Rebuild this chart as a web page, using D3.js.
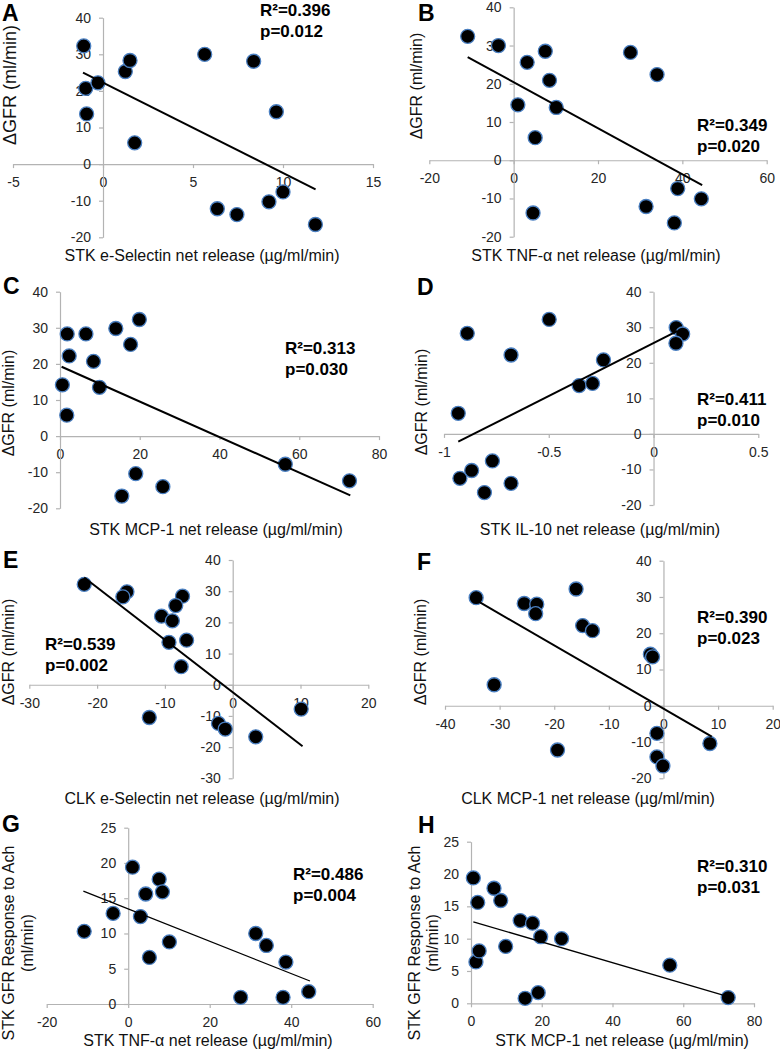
<!DOCTYPE html>
<html><head><meta charset="utf-8">
<script src="https://cdn.jsdelivr.net/npm/d3@7"></script>
<style>body{margin:0;background:#fff}svg{display:block}</style>
</head><body>
<script>
// ---- data ----
const aX = [-1.07,-0.96,-0.91,-0.28,1.24,1.5,1.76,5.65,8.37,9.63,6.35,7.44,9.22,10.0,11.8];
const aY = [32.3,20.7,13.7,22.2,25.3,28.3,5.8,30.0,28.1,14.3,-12.2,-13.8,-10.3,-7.6,-16.5];
const aTrend = [-1.11,25.0,11.81,-6.9];
const bX = [-10.9,-3.6,7.5,3.2,8.5,1.0,10.1,5.1,27.7,34.0,4.6,38.9,44.5,31.4,38.1];
const bY = [32.4,30.0,28.5,25.6,20.9,14.5,13.8,5.9,28.2,22.4,-13.8,-7.4,-10.1,-12.1,-16.4];
const bTrend = [-10.9,27.0,44.7,-6.5];
const cX = [0.6,1.7,1.8,2.3,6.5,8.4,9.9,14.0,17.7,19.9,15.5,19.0,25.8,56.5,72.6];
const cY = [14.2,5.8,28.3,22.2,28.3,20.7,13.5,29.8,25.4,32.3,-16.6,-10.4,-14.0,-7.8,-12.4];
const cTrend = [0.4,19.2,72.8,-16.4];
const dX = [-0.889,-0.498,-0.680,-0.932,-0.355,-0.291,-0.239,0.108,0.139,0.107,-0.769,-0.868,-0.924,-0.807,-0.680];
const dY = [28.3,32.2,22.2,5.8,13.6,14.2,20.8,29.9,28.1,25.5,-7.6,-10.3,-12.5,-16.5,-13.9];
const dTrend = [-0.932,-2.2,0.115,29.0];
const eX = [-21.9,-15.6,-16.2,-7.4,-8.4,-10.5,-8.9,-9.4,-6.8,-7.6,10.1,-12.3,-2.1,-1.1,3.4];
const eY = [32.2,29.8,28.2,28.4,25.4,22.0,20.5,13.6,14.3,5.8,-7.8,-10.5,-12.4,-14.2,-16.7];
const eTrend = [-21.9,34.4,10.3,-19.7];
const fX = [-34.3,-16.0,-25.5,-23.2,-23.4,-14.8,-13.0,-2.4,-2.0,-31.0,-1.2,8.5,-19.4,-1.2,-0.1];
const fY = [29.8,32.2,28.2,28.0,25.4,22.1,20.7,14.2,13.5,5.8,-7.6,-10.4,-12.2,-14.1,-16.6];
const fTrend = [-34.3,29.1,8.85,-8.5];
const gX = [-10.8,-3.7,1.06,3.0,4.3,5.2,7.6,8.4,10.1,27.6,31.3,33.9,38.0,38.7,44.3];
const gY = [10.3,12.85,19.4,12.4,15.6,6.6,17.7,15.9,8.8,0.95,10.0,8.3,0.95,5.95,1.75];
const gTrend = [-11.0,16.0,44.6,3.26];
const hX = [0.66,1.9,1.4,2.3,6.5,8.4,9.8,13.9,17.4,19.7,25.6,15.3,19.0,56.2,72.7];
const hY = [19.4,15.6,6.4,8.1,17.8,15.9,8.8,12.8,12.4,10.3,10.0,0.77,1.65,5.9,0.88];
const hTrend = [0.66,12.6,72.7,1.03];

const aXTicks = [-5,0,5,10,15];
const bXTicks = [-20,0,20,40,60];
const cXTicks = [0,20,40,60,80];
const dXTicks = [-1,-0.5,0,0.5];
const eXTicks = [-30,-20,-10,0,10,20];
const fXTicks = [-40,-30,-20,-10,0,10,20];
const gXTicks = [-20,0,20,40,60];
const hXTicks = [0,20,40,60,80];
const gfrTicks = [-20,-10,0,10,20,30,40];
const eYTicks = [-30,-20,-10,0,10,20,30,40];
const achTicks = [0,5,10,15,20,25];

const panelLabels = ["A","B","C","D","E","F","G","H"];
const xTitles = [
  "STK e-Selectin net release (µg/ml/min)",
  "STK TNF-α net release (µg/ml/min)",
  "STK MCP-1 net release (µg/ml/min)",
  "STK IL-10 net release (µg/ml/min)",
  "CLK e-Selectin net release (µg/ml/min)",
  "CLK MCP-1 net release (µg/ml/min)",
  "STK TNF-α net release (µg/ml/min)",
  "STK MCP-1 net release (µg/ml/min)"];
const gfrTitle = ["ΔGFR (ml/min)"];
const achTitle = ["STK GFR Response to Ach","(ml/min)"];
const r2Labels = ["R²=0.396","R²=0.349","R²=0.313","R²=0.411","R²=0.539","R²=0.390","R²=0.486","R²=0.310"];
const pLabels = ["p=0.012","p=0.020","p=0.030","p=0.010","p=0.002","p=0.023","p=0.004","p=0.031"];

// ---- layout (pixel positions only) ----
const layout = [
  {xs:aX,ys:aY,tr:aTrend,xt:aXTicks,yt:gfrTicks,xr:[13,373],yr:[237.3,17.7],lab:[2,21],st:[260,16],xtitle:[202,255],ytitle:[10,85],yfs:18,lw:2},
  {xs:bX,ys:bY,tr:bTrend,xt:bXTicks,yt:gfrTicks,xr:[429.3,766.7],yr:[236.7,7.3],lab:[418,21],st:[697,131],xtitle:[596,255],ytitle:[416,86],yfs:16,lw:2},
  {xs:cX,ys:cY,tr:cTrend,xt:cXTicks,yt:gfrTicks,xr:[60,379],yr:[508.3,291.7],lab:[3,294],st:[285,354],xtitle:[216,529],ytitle:[8,403],yfs:16,lw:2},
  {xs:dX,ys:dY,tr:dTrend,xt:dXTicks,yt:gfrTicks,xr:[444,758.3],yr:[505,291.7],lab:[417,295],st:[697,405],xtitle:[600,529],ytitle:[421,402],yfs:16,lw:2},
  {xs:eX,ys:eY,tr:eTrend,xt:eXTicks,yt:eYTicks,xr:[29.3,368.3],yr:[778.3,560],lab:[3,568],st:[45,650],xtitle:[202,798],ytitle:[8,652],yfs:16,lw:2},
  {xs:fX,ys:fY,tr:fTrend,xt:fXTicks,yt:gfrTicks,xr:[445,772.7],yr:[778.3,560.7],lab:[417,570],st:[697,623],xtitle:[588,798],ytitle:[420,652],yfs:16,lw:2},
  {xs:gX,ys:gY,tr:gTrend,xt:gXTicks,yt:achTicks,xr:[46.7,372.7],yr:[1004,827.7],lab:[2,832],st:[293,880],xtitle:[208,1040],ytitle:[8,943],yfs:16,lw:1.3,two:true,gap:19},
  {xs:hX,ys:hY,tr:hTrend,xt:hXTicks,yt:achTicks,xr:[471,754],yr:[1003.3,841.7],lab:[418,833],st:[697,872],xtitle:[622,1040],ytitle:[414,943],yfs:16,lw:1.3,two:true,gap:18}
];

const svg = d3.select("body").append("svg").attr("width",780).attr("height",1050);
const tickFont = "'Liberation Sans', Arial, sans-serif";
const axisCol = "#b3b3b3";

layout.forEach((p,i)=>{
  const x = d3.scaleLinear().domain(d3.extent(p.xt)).range(p.xr);
  const y = d3.scaleLinear().domain(d3.extent(p.yt)).range(p.yr);
  const g = svg.append("g");
  const fmt = d => String(d);

  const xa = g.append("g").attr("transform",`translate(0,${y(0)})`)
    .call(d3.axisBottom(x).tickValues(p.xt).tickSize(4).tickSizeOuter(0).tickPadding(9).tickFormat(fmt));
  const ya = g.append("g").attr("transform",`translate(${x(0)},0)`)
    .call(d3.axisLeft(y).tickValues(p.yt).tickSize(4).tickSizeOuter(0).tickPadding(8).tickFormat(fmt));
  [xa,ya].forEach(a=>{
    a.select(".domain").attr("stroke",axisCol).attr("stroke-width",1.2);
    a.selectAll(".tick line").attr("stroke",axisCol).attr("stroke-width",1.2);
    a.selectAll(".tick text").attr("fill","#262626").style("font-family",tickFont).style("font-size","14px");
  });

  // points
  g.selectAll("circle.pt").data(p.xs.map((v,k)=>[v,p.ys[k]])).join("circle")
    .attr("class","pt").attr("cx",d=>x(d[0])).attr("cy",d=>y(d[1])).attr("r",7)
    .attr("fill","#000").attr("stroke","#4a7fc1").attr("stroke-width",1.3);

  // trend line
  g.append("line").attr("x1",x(p.tr[0])).attr("y1",y(p.tr[1])).attr("x2",x(p.tr[2])).attr("y2",y(p.tr[3]))
    .attr("stroke","#000").attr("stroke-width",p.lw);

  // panel label
  g.append("text").attr("x",p.lab[0]).attr("y",p.lab[1]).text(panelLabels[i])
    .style("font-family","'Liberation Sans', Arial, sans-serif").style("font-weight","bold").style("font-size","23px");

  // stats
  const st = g.append("text").style("font-family","'Liberation Sans', Arial, sans-serif")
    .style("font-weight","bold").style("font-size","17px").attr("fill","#000");
  st.append("tspan").attr("x",p.st[0]).attr("y",p.st[1]).text(r2Labels[i]);
  st.append("tspan").attr("x",p.st[0]).attr("y",p.st[1]+21).text(pLabels[i]);

  // x title
  g.append("text").attr("x",p.xtitle[0]).attr("y",p.xtitle[1]).attr("dy","0.35em").attr("text-anchor","middle")
    .style("font-family","'Liberation Sans', Arial, sans-serif").style("font-size","16px").attr("fill","#111")
    .text(xTitles[i]);

  // y title
  const lines = p.two ? achTitle : gfrTitle;
  lines.forEach((t,k)=>{
    g.append("text").attr("transform",`translate(${p.ytitle[0]+k*(p.gap||20)},${p.ytitle[1]}) rotate(-90)`)
      .attr("dy","0.35em").attr("text-anchor","middle")
      .style("font-family","'Liberation Sans', Arial, sans-serif").style("font-size",p.yfs+"px").attr("fill","#111")
      .text(t);
  });
});
</script>
</body></html>
